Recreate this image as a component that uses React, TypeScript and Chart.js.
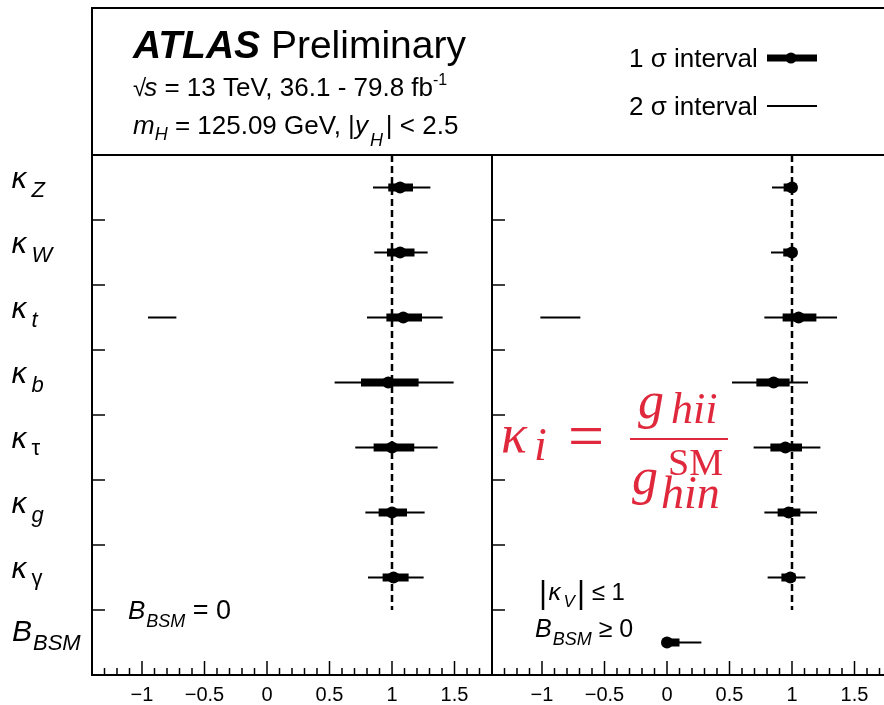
import React, { useEffect, useRef } from 'react';
import { Chart, registerables } from 'chart.js';
Chart.register(...registerables);

const SANS = '"Liberation Sans", Arial, Helvetica, sans-serif';
const SERIF = '"Liberation Serif", "Times New Roman", serif';
const GREEK = '"DejaVu Sans", "Liberation Sans", sans-serif';

// Rows (top to bottom)
const rowMain = ['κ', 'κ', 'κ', 'κ', 'κ', 'κ', 'κ', 'B'];
const rowSub = ['Z', 'W', 't', 'b', 'τ', 'g', 'γ', 'BSM'];
const rowSubItalic = [true, true, true, true, false, true, false, true];

// Left panel: B_BSM = 0
const leftCentral = [1.065, 1.065, 1.09, 0.97, 1.0, 1.0, 1.012, null];
const left1Lo = [0.97, 0.96, 0.955, 0.752, 0.853, 0.893, 0.925, null];
const left1Hi = [1.168, 1.18, 1.24, 1.213, 1.178, 1.12, 1.133, null];
const left2Lo = [0.848, 0.858, 0.8, 0.541, 0.706, 0.787, 0.808, null];
const left2Hi = [1.307, 1.285, 1.405, 1.493, 1.365, 1.261, 1.253, null];
const leftExtraRow = 2; // kappa_t second 2-sigma interval
const leftExtra = [-0.952, -0.725];

// Right panel: |kappa_V| <= 1, B_BSM >= 0
const rightCentral = [1.0, 1.0, 1.053, 0.853, 0.947, 0.973, 0.987, 0.0];
const right1Lo = [0.933, 0.93, 0.925, 0.715, 0.827, 0.885, 0.915, 0.0];
const right1Hi = [1.0, 1.0, 1.195, 0.981, 1.08, 1.067, 1.027, 0.1];
const right2Lo = [0.84, 0.832, 0.779, 0.52, 0.693, 0.779, 0.805, 0.0];
const right2Hi = [1.0, 1.0, 1.36, 1.128, 1.227, 1.2, 1.107, 0.275];
const rightExtraRow = 2;
const rightExtra = [-1.013, -0.693];

// Axis
const xMin = -1.4;
const xMax = 1.8;
const xTickValues = [-1, -0.5, 0, 0.5, 1, 1.5];
const smRef = 1; // SM expectation
const smRefRows = [0, 6];

type Run = { t: string; f: string; dy?: number; dx?: number };
function drawRuns(ctx: CanvasRenderingContext2D, x: number, y: number, runs: Run[], color = '#000') {
  ctx.save();
  ctx.fillStyle = color;
  ctx.textBaseline = 'alphabetic';
  ctx.textAlign = 'left';
  let cx = x;
  for (const r of runs) {
    ctx.font = r.f;
    cx += r.dx || 0;
    ctx.fillText(r.t, cx, y + (r.dy || 0));
    cx += ctx.measureText(r.t).width;
  }
  ctx.restore();
  return cx;
}

function line(ctx: CanvasRenderingContext2D, x1: number, y1: number, x2: number, y2: number) {
  ctx.beginPath();
  ctx.moveTo(x1, y1);
  ctx.lineTo(x2, y2);
  ctx.stroke();
}

function panelDatasets(central: (number | null)[], lo1: (number | null)[], hi1: (number | null)[], lo2: (number | null)[], hi2: (number | null)[], extraRow: number, extra: number[]) {
  const ds: any[] = [];
  const pts: any[] = [];
  central.forEach((v, i) => { if (v !== null) pts.push({ x: v, y: i }); });
  ds.push({ data: pts, pointRadius: 6, pointStyle: 'circle', backgroundColor: '#000', borderColor: '#000', borderWidth: 0, order: 0 });
  central.forEach((_, i) => {
    if (lo1[i] === null) return;
    ds.push({ data: [{ x: lo1[i], y: i }, { x: hi1[i], y: i }], showLine: true, borderColor: '#000', borderWidth: 8, pointRadius: 0, borderCapStyle: 'butt', order: 1 });
    ds.push({ data: [{ x: lo2[i], y: i }, { x: hi2[i], y: i }], showLine: true, borderColor: '#000', borderWidth: 2, pointRadius: 0, borderCapStyle: 'butt', order: 2 });
  });
  ds.push({ data: [{ x: extra[0], y: extraRow }, { x: extra[1], y: extraRow }], showLine: true, borderColor: '#000', borderWidth: 2, pointRadius: 0, borderCapStyle: 'butt', order: 2 });
  ds.push({ data: [{ x: smRef, y: smRefRows[0] - 0.5 }, { x: smRef, y: smRefRows[1] + 0.5 }], showLine: true, borderColor: '#000', borderWidth: 2.5, borderDash: [7, 4], pointRadius: 0, order: 3 });
  return ds;
}

function makeOptions(padding: any) {
  return {
    responsive: false,
    animation: false as const,
    events: [] as any[],
    layout: { padding },
    plugins: { legend: { display: false }, tooltip: { enabled: false }, title: { display: false } },
    scales: {
      x: {
        type: 'linear' as const,
        min: xMin,
        max: xMax,
        afterBuildTicks: (s: any) => { s.ticks = xTickValues.map((v) => ({ value: v })); },
        afterFit: (s: any) => { s.height = 30; },
        grid: { display: false },
        border: { display: false },
        ticks: {
          color: '#000',
          padding: 0,
          font: { family: SANS, size: 20 },
          callback: (v: any) => String(v).replace('-', '\u2212'),
        },
      },
      y: { type: 'linear' as const, min: -0.5, max: 7.5, reverse: true, display: false },
    },
  };
}

function drawPanelFrame(chart: any) {
  const { ctx, chartArea, scales } = chart;
  const { left, right, top, bottom } = chartArea;
  const x = scales.x, y = scales.y;
  ctx.save();
  ctx.strokeStyle = '#000';
  ctx.lineWidth = 1.5;
  for (let k = Math.ceil(xMin * 10); k <= Math.floor(xMax * 10 + 1e-6); k++) {
    const px = x.getPixelForValue(k / 10);
    const major = k % 5 === 0;
    line(ctx, px, bottom, px, bottom - (major ? 14 : 7));
  }
  for (let i = 0; i < rowMain.length - 1; i++) {
    const py = y.getPixelForValue(i + 0.5);
    line(ctx, left, py, left + 13, py);
  }
  ctx.lineWidth = 2;
  line(ctx, left, top, left, bottom + 1);
  line(ctx, left - 1, bottom, right + 1, bottom);
  ctx.restore();
}

const leftDecor = {
  id: 'leftDecor',
  afterDraw(chart: any) {
    const { ctx, chartArea, scales } = chart;
    const { left, top } = chartArea;
    drawPanelFrame(chart);
    ctx.save();
    ctx.strokeStyle = '#000';
    ctx.lineWidth = 2;
    // header box
    line(ctx, left, 8, left, top);
    line(ctx, left - 1, 8, 884, 8);
    line(ctx, left - 1, top, 884, top);
    ctx.restore();
    // header texts
    drawRuns(ctx, 133, 58, [
      { t: 'ATLAS', f: `italic bold 39px ${SANS}` },
      { t: ' Preliminary', f: `39px ${SANS}` },
    ]);
    drawRuns(ctx, 133, 96, [
      { t: '√', f: `24px ${SANS}` },
      { t: 's', f: `italic 26px ${SANS}`, dx: -2 },
      { t: ' = 13 TeV, 36.1 - 79.8 fb', f: `26px ${SANS}` },
      { t: '-1', f: `16px ${SANS}`, dy: -11 },
    ]);
    drawRuns(ctx, 133, 134, [
      { t: 'm', f: `italic 26px ${SANS}` },
      { t: 'H', f: `italic 18px ${SANS}`, dy: 6 },
      { t: ' = 125.09 GeV, |', f: `26px ${SANS}` },
      { t: 'y', f: `italic 26px ${SANS}` },
      { t: 'H', f: `italic 18px ${SANS}`, dy: 12, dx: 2 },
      { t: '| < 2.5', f: `26px ${SANS}`, dx: 3 },
    ]);
    // legend
    drawRuns(ctx, 629, 67, [{ t: '1 σ interval', f: `26px ${SANS}` }]);
    drawRuns(ctx, 629, 115, [{ t: '2 σ interval', f: `26px ${SANS}` }]);
    ctx.save();
    ctx.strokeStyle = '#000';
    ctx.fillStyle = '#000';
    ctx.lineWidth = 7;
    line(ctx, 767, 58, 817, 58);
    ctx.beginPath();
    ctx.arc(791, 58, 5.5, 0, Math.PI * 2);
    ctx.fill();
    ctx.lineWidth = 2;
    line(ctx, 767, 106, 817, 106);
    ctx.restore();
    // row labels
    const y = scales.y;
    rowMain.forEach((m, i) => {
      const py = y.getPixelForValue(i);
      if (m === 'B') {
        drawRuns(ctx, 12, py - 2, [
          { t: 'B', f: `italic 30px ${SANS}` },
          { t: rowSub[i], f: `italic 22px ${SANS}`, dy: 9, dx: 1 },
        ]);
      } else {
        drawRuns(ctx, 11, py, [
          { t: 'κ', f: `italic 28px ${GREEK}` },
          { t: rowSub[i], f: `${rowSubItalic[i] ? 'italic ' : ''}22px ${SANS}`, dy: rowSubItalic[i] ? 9 : 7, dx: 4 },
        ]);
      }
    });
    // annotation
    drawRuns(ctx, 128, 619, [
      { t: 'B', f: `italic 26px ${SANS}` },
      { t: 'BSM', f: `italic 18px ${SANS}`, dy: 8, dx: 1 },
      { t: ' = 0', f: `27px ${SANS}` },
    ]);
  },
};

const rightDecor = {
  id: 'rightDecor',
  afterDraw(chart: any) {
    const { ctx } = chart;
    drawPanelFrame(chart);
    // annotations
    drawRuns(ctx, 539, 603, [
      { t: '|', f: `31px ${SANS}` },
      { t: 'κ', f: `italic 23px ${GREEK}`, dy: -3, dx: 1 },
      { t: 'V', f: `italic 17px ${SANS}`, dy: 4, dx: 2 },
      { t: '|', f: `31px ${SANS}`, dx: 2 },
      { t: ' ≤ 1', f: `24px ${SANS}`, dy: -3 },
    ]);
    drawRuns(ctx, 535, 637, [
      { t: 'B', f: `italic 25px ${SANS}` },
      { t: 'BSM', f: `italic 18px ${SANS}`, dy: 8, dx: 1 },
      { t: ' ≥ 0', f: `25px ${SANS}` },
    ]);
    // formula
    const red = '#e0283c';
    drawRuns(ctx, 501, 452, [{ t: 'κ', f: `italic 54px ${SERIF}` }], red);
    drawRuns(ctx, 534, 460, [{ t: 'i', f: `italic 46px ${SERIF}` }], red);
    drawRuns(ctx, 568, 457, [{ t: '=', f: `64px ${SERIF}` }], red);
    ctx.save();
    ctx.strokeStyle = red;
    ctx.lineWidth = 2;
    line(ctx, 630, 439, 728, 439);
    ctx.restore();
    drawRuns(ctx, 638, 418, [{ t: 'g', f: `italic 52px ${SERIF}` }], red);
    drawRuns(ctx, 671, 423, [{ t: 'hii', f: `italic 44px ${SERIF}` }], red);
    drawRuns(ctx, 632, 494, [{ t: 'g', f: `italic 52px ${SERIF}` }], red);
    drawRuns(ctx, 668, 475, [{ t: 'SM', f: `38px ${SERIF}` }], red);
    drawRuns(ctx, 661, 508, [{ t: 'hin', f: `italic 46px ${SERIF}` }], red);
  },
};

export default function App() {
  const leftRef = useRef<HTMLCanvasElement | null>(null);
  const rightRef = useRef<HTMLCanvasElement | null>(null);

  useEffect(() => {
    document.body.style.margin = '0';
    document.body.style.overflow = 'hidden';
    const left = new Chart(leftRef.current as HTMLCanvasElement, {
      type: 'scatter',
      data: { datasets: panelDatasets(leftCentral, left1Lo, left1Hi, left2Lo, left2Hi, leftExtraRow, leftExtra) },
      options: makeOptions({ left: 92, right: 392, top: 155, bottom: 0 }) as any,
      plugins: [leftDecor],
    });
    const right = new Chart(rightRef.current as HTMLCanvasElement, {
      type: 'scatter',
      data: { datasets: panelDatasets(rightCentral, right1Lo, right1Hi, right2Lo, right2Hi, rightExtraRow, rightExtra) },
      options: makeOptions({ left: 492, right: 48, top: 155, bottom: 0 }) as any,
      plugins: [rightDecor],
    });
    return () => {
      left.destroy();
      right.destroy();
    };
  }, []);

  const cs: React.CSSProperties = { position: 'absolute', left: 0, top: 0, display: 'block' };
  return (
    <div style={{ position: 'relative', width: 884, height: 705, overflow: 'hidden', background: '#fff' }}>
      <canvas ref={leftRef} width={884} height={705} style={cs} />
      <canvas ref={rightRef} width={940} height={705} style={cs} />
    </div>
  );
}
